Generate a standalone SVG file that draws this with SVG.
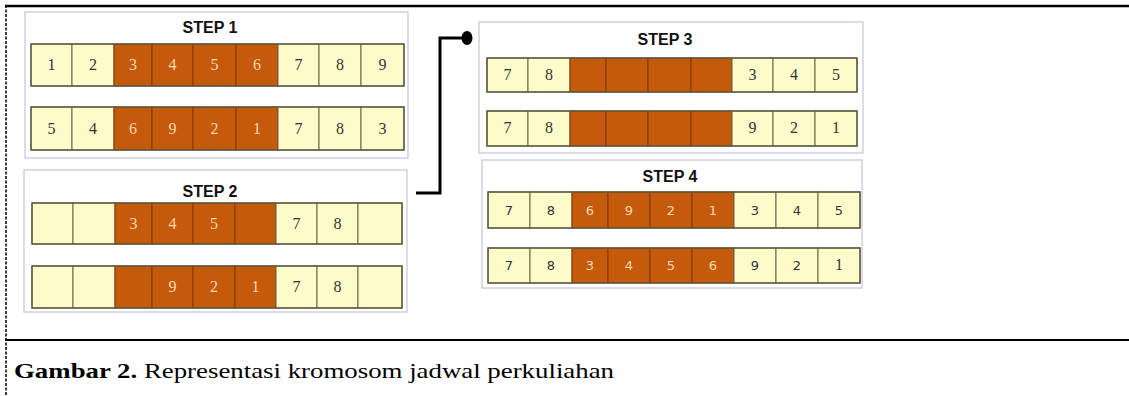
<svg xmlns="http://www.w3.org/2000/svg" width="1129" height="396" viewBox="0 0 1129 396">
<style>
.panel{fill:#ffffff;stroke:#c4c4dc;stroke-width:1.2}
.lt{fill:#fdfbc9;stroke:#66664a;stroke-width:1}
.dk{fill:#c55a0c;stroke:#7a3a08;stroke-width:1}
.row{fill:none;stroke:#5c5c40;stroke-width:1.4}
.ttl{font-family:"Liberation Sans",Arial,sans-serif;font-weight:bold;font-size:16px;fill:#111;text-anchor:middle}
.n{font-family:"Liberation Serif","Times New Roman",serif;font-size:16px;text-anchor:middle;fill:#333}
.nd{fill:#f8d8b0}
.ns{font-family:"DejaVu Sans",sans-serif;font-size:13px}
.cap{font-family:"Liberation Serif","Times New Roman",serif;font-size:21px;fill:#000}
</style>
<g id="frame">
<line x1="5" y1="6" x2="1129" y2="6" stroke="#000" stroke-width="2.5"/>
<line x1="6" y1="5" x2="6" y2="396" stroke="#000" stroke-width="1.5" stroke-dasharray="3,1.5"/>
<line x1="5" y1="340" x2="1129" y2="340" stroke="#000" stroke-width="2"/>
</g>

<g id="step1">
<rect class="panel" x="25" y="12" width="383" height="146"/>
<text class="ttl" x="210" y="33">STEP 1</text>
<g>
<rect class="lt" x="31" y="44" width="41" height="42"/><rect class="lt" x="72" y="44" width="42" height="42"/>
<rect class="dk" x="114" y="44" width="38" height="42"/><rect class="dk" x="152" y="44" width="41" height="42"/><rect class="dk" x="193" y="44" width="43" height="42"/><rect class="dk" x="236" y="44" width="42" height="42"/>
<rect class="lt" x="278" y="44" width="41" height="42"/><rect class="lt" x="319" y="44" width="42" height="42"/><rect class="lt" x="361" y="44" width="43" height="42"/>
<rect class="row" x="31" y="44" width="373" height="42"/>
<text class="n" x="51.5" y="70">1</text><text class="n" x="93" y="70">2</text>
<text class="n nd" x="133" y="70">3</text><text class="n nd" x="172.5" y="70">4</text><text class="n nd" x="214.5" y="70">5</text><text class="n nd" x="257" y="70">6</text>
<text class="n" x="298.5" y="70">7</text><text class="n" x="340" y="70">8</text><text class="n" x="382.5" y="70">9</text>
</g>
<g>
<rect class="lt" x="31" y="107" width="41" height="43"/><rect class="lt" x="72" y="107" width="42" height="43"/>
<rect class="dk" x="114" y="107" width="38" height="43"/><rect class="dk" x="152" y="107" width="41" height="43"/><rect class="dk" x="193" y="107" width="43" height="43"/><rect class="dk" x="236" y="107" width="42" height="43"/>
<rect class="lt" x="278" y="107" width="41" height="43"/><rect class="lt" x="319" y="107" width="42" height="43"/><rect class="lt" x="361" y="107" width="43" height="43"/>
<rect class="row" x="31" y="107" width="373" height="43"/>
<text class="n" x="51.5" y="134">5</text><text class="n" x="93" y="134">4</text>
<text class="n nd" x="133" y="134">6</text><text class="n nd" x="172.5" y="134">9</text><text class="n nd" x="214.5" y="134">2</text><text class="n nd" x="257" y="134">1</text>
<text class="n" x="298.5" y="134">7</text><text class="n" x="340" y="134">8</text><text class="n" x="382.5" y="134">3</text>
</g>
</g>

<g id="step2">
<rect class="panel" x="24" y="170" width="383" height="142"/>
<text class="ttl" x="210" y="197">STEP 2</text>
<g>
<rect class="lt" x="32" y="203" width="41" height="41"/><rect class="lt" x="73" y="203" width="42" height="41"/>
<rect class="dk" x="115" y="203" width="37" height="41"/><rect class="dk" x="152" y="203" width="41" height="41"/><rect class="dk" x="193" y="203" width="42" height="41"/><rect class="dk" x="235" y="203" width="41" height="41"/>
<rect class="lt" x="276" y="203" width="41" height="41"/><rect class="lt" x="317" y="203" width="41" height="41"/><rect class="lt" x="358" y="203" width="44" height="41"/>
<rect class="row" x="32" y="203" width="370" height="41"/>
<text class="n nd" x="133.5" y="229">3</text><text class="n nd" x="172.5" y="229">4</text><text class="n nd" x="214" y="229">5</text>
<text class="n" x="296.5" y="229">7</text><text class="n" x="337.5" y="229">8</text>
</g>
<g>
<rect class="lt" x="32" y="266" width="41" height="42"/><rect class="lt" x="73" y="266" width="42" height="42"/>
<rect class="dk" x="115" y="266" width="37" height="42"/><rect class="dk" x="152" y="266" width="41" height="42"/><rect class="dk" x="193" y="266" width="42" height="42"/><rect class="dk" x="235" y="266" width="41" height="42"/>
<rect class="lt" x="276" y="266" width="41" height="42"/><rect class="lt" x="317" y="266" width="41" height="42"/><rect class="lt" x="358" y="266" width="44" height="42"/>
<rect class="row" x="32" y="266" width="370" height="42"/>
<text class="n nd" x="172.5" y="292">9</text><text class="n nd" x="214" y="292">2</text><text class="n nd" x="255.5" y="292">1</text>
<text class="n" x="296.5" y="292">7</text><text class="n" x="337.5" y="292">8</text>
</g>
</g>

<g id="step3">
<rect class="panel" x="479" y="22" width="384" height="131"/>
<text class="ttl" x="665" y="45">STEP 3</text>
<g>
<rect class="lt" x="487" y="58" width="41" height="34"/><rect class="lt" x="528" y="58" width="42" height="34"/>
<rect class="dk" x="570" y="58" width="36" height="34"/><rect class="dk" x="606" y="58" width="42" height="34"/><rect class="dk" x="648" y="58" width="43" height="34"/><rect class="dk" x="691" y="58" width="41" height="34"/>
<rect class="lt" x="732" y="58" width="41" height="34"/><rect class="lt" x="773" y="58" width="42" height="34"/><rect class="lt" x="815" y="58" width="42" height="34"/>
<rect class="row" x="487" y="58" width="370" height="34"/>
<text class="n" x="507.5" y="80" font-size="13">7</text><text class="n" x="549" y="80" font-size="13">8</text>
<text class="n" x="752.5" y="80" font-size="13">3</text><text class="n" x="794" y="80" font-size="13">4</text><text class="n" x="836" y="80" font-size="13">5</text>
</g>
<g>
<rect class="lt" x="487" y="111" width="41" height="35"/><rect class="lt" x="528" y="111" width="42" height="35"/>
<rect class="dk" x="570" y="111" width="36" height="35"/><rect class="dk" x="606" y="111" width="42" height="35"/><rect class="dk" x="648" y="111" width="43" height="35"/><rect class="dk" x="691" y="111" width="41" height="35"/>
<rect class="lt" x="732" y="111" width="41" height="35"/><rect class="lt" x="773" y="111" width="42" height="35"/><rect class="lt" x="815" y="111" width="42" height="35"/>
<rect class="row" x="487" y="111" width="370" height="35"/>
<text class="n" x="507.5" y="133" font-size="13">7</text><text class="n" x="549" y="133" font-size="13">8</text>
<text class="n" x="752.5" y="133" font-size="13">9</text><text class="n" x="794" y="133" font-size="13">2</text><text class="n" x="836" y="133" font-size="13">1</text>
</g>
</g>

<g id="step4">
<rect class="panel" x="482" y="160" width="380" height="128"/>
<text class="ttl" x="670" y="182">STEP 4</text>
<g>
<rect class="lt" x="488" y="192" width="42" height="36"/><rect class="lt" x="530" y="192" width="42" height="36"/>
<rect class="dk" x="572" y="192" width="36" height="36"/><rect class="dk" x="608" y="192" width="42" height="36"/><rect class="dk" x="650" y="192" width="42" height="36"/><rect class="dk" x="692" y="192" width="42" height="36"/>
<rect class="lt" x="734" y="192" width="42" height="36"/><rect class="lt" x="776" y="192" width="42" height="36"/><rect class="lt" x="818" y="192" width="42" height="36"/>
<rect class="row" x="488" y="192" width="372" height="36"/>
<text class="n ns" x="509" y="215">7</text><text class="n ns" x="551" y="215">8</text>
<text class="n ns nd" x="590" y="215">6</text><text class="n ns nd" x="629" y="215">9</text><text class="n ns nd" x="671" y="215">2</text><text class="n ns nd" x="713" y="215">1</text>
<text class="n ns" x="755" y="215">3</text><text class="n ns" x="797" y="215">4</text><text class="n ns" x="839" y="215">5</text>
</g>
<g>
<rect class="lt" x="488" y="248" width="42" height="35"/><rect class="lt" x="530" y="248" width="42" height="35"/>
<rect class="dk" x="572" y="248" width="36" height="35"/><rect class="dk" x="608" y="248" width="42" height="35"/><rect class="dk" x="650" y="248" width="42" height="35"/><rect class="dk" x="692" y="248" width="42" height="35"/>
<rect class="lt" x="734" y="248" width="42" height="35"/><rect class="lt" x="776" y="248" width="42" height="35"/><rect class="lt" x="818" y="248" width="42" height="35"/>
<rect class="row" x="488" y="248" width="372" height="35"/>
<text class="n ns" x="509" y="270">7</text><text class="n ns" x="551" y="270">8</text>
<text class="n ns nd" x="590" y="270">3</text><text class="n ns nd" x="629" y="270">4</text><text class="n ns nd" x="671" y="270">5</text><text class="n ns nd" x="713" y="270">6</text>
<text class="n ns" x="755" y="270">9</text><text class="n ns" x="797" y="270">2</text><text class="n" x="839" y="270">1</text>
</g>
</g>

<g id="connectors">
<polyline points="416,193 440,193 440,38 463,38" fill="none" stroke="#000" stroke-width="3"/>
<ellipse cx="467" cy="38" rx="5.5" ry="7" fill="#000"/>
</g>

<g id="caption">
<text class="cap" x="14" y="378" textLength="600" lengthAdjust="spacingAndGlyphs"><tspan font-weight="bold">Gambar 2.</tspan> Representasi kromosom jadwal perkuliahan</text>
</g>
</svg>
